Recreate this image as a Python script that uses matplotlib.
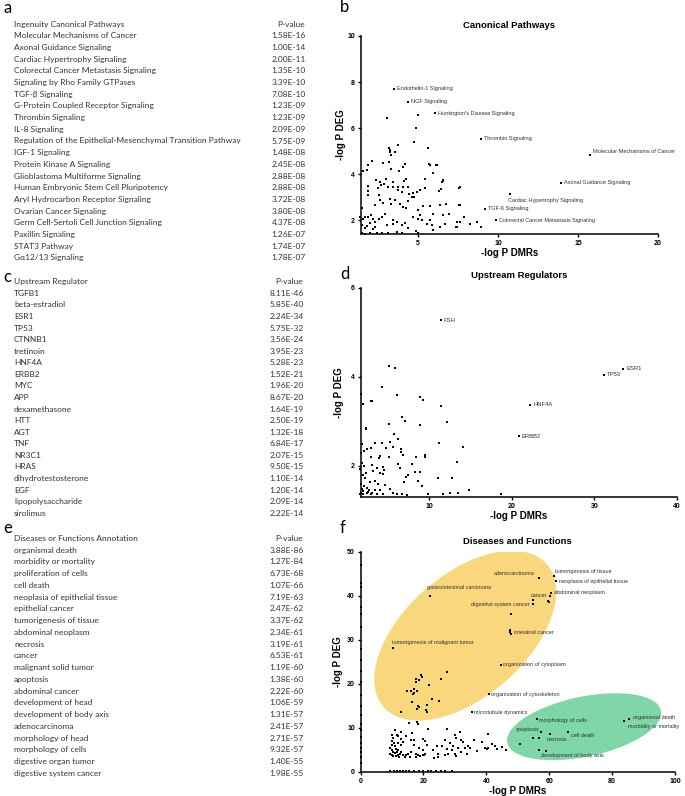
import matplotlib
matplotlib.use("Agg")
import matplotlib.pyplot as plt
from matplotlib.patches import Ellipse
from matplotlib.transforms import IdentityTransform

W, H = 685, 796
DPI = 100

# ---------------- table data ----------------
a_header = ["Ingenuity Canonical Pathways", "P-value"]
a_names = ["Molecular Mechanisms of Cancer", "Axonal Guidance Signaling", "Cardiac Hypertrophy Signaling",
           "Colorectal Cancer Metastasis Signaling", "Signaling by Rho Family GTPases", "TGF-β Signaling",
           "G-Protein Coupled Receptor Signaling", "Thrombin Signaling", "IL-8 Signaling",
           "Regulation of the Epithelial-Mesenchymal Transition Pathway", "IGF-1 Signaling",
           "Protein Kinase A Signaling", "Glioblastoma Multiforme Signaling",
           "Human Embryonic Stem Cell Pluripotency", "Aryl Hydrocarbon Receptor Signaling",
           "Ovarian Cancer Signaling", "Germ Cell-Sertoli Cell Junction Signaling", "Paxillin Signaling",
           "STAT3 Pathway", "Gα12/13 Signaling"]
a_pvals = ["1.58E-16", "1.00E-14", "2.00E-11", "1.35E-10", "3.39E-10", "7.08E-10", "1.23E-09", "1.23E-09",
           "2.09E-09", "5.75E-09", "1.48E-08", "2.45E-08", "2.88E-08", "2.88E-08", "3.72E-08", "3.80E-08",
           "4.37E-08", "1.26E-07", "1.74E-07", "1.78E-07"]

c_header = ["Upstream Regulator", "P-value"]
c_names = ["TGFB1", "beta-estradiol", "ESR1", "TP53", "CTNNB1", "tretinoin", "HNF4A", "ERBB2", "MYC", "APP",
           "dexamethasone", "HTT", "AGT", "TNF", "NR3C1", "HRAS", "dihydrotestosterone", "EGF",
           "lipopolysaccharide", "sirolimus"]
c_pvals = ["8.11E-46", "5.85E-40", "2.24E-34", "5.75E-32", "3.56E-24", "3.95E-23", "5.28E-23", "1.52E-21",
           "1.96E-20", "8.67E-20", "1.64E-19", "2.50E-19", "1.32E-18", "6.84E-17", "2.07E-15", "9.50E-15",
           "1.10E-14", "1.20E-14", "2.09E-14", "2.22E-14"]

e_header = ["Diseases or Functions Annotation", "P-value"]
e_names = ["organismal death", "morbidity or mortality", "proliferation of cells", "cell death",
           "neoplasia of epithelial tissue", "epithelial cancer", "tumorigenesis of tissue", "abdominal neoplasm",
           "necrosis", "cancer", "malignant solid tumor", "apoptosis", "abdominal cancer", "development of head",
           "development of body axis", "adenocarcinoma", "morphology of head", "morphology of cells",
           "digestive organ tumor", "digestive system cancer"]
e_pvals = ["3.88E-86", "1.27E-84", "6.73E-68", "1.07E-66", "7.19E-63", "2.47E-62", "3.37E-62", "2.34E-61",
           "3.19E-61", "6.53E-61", "1.19E-60", "1.38E-60", "2.22E-60", "1.06E-59", "1.31E-57", "2.41E-57",
           "2.71E-57", "9.32E-57", "1.40E-55", "1.98E-55"]

# ---------------- scatter b: canonical pathways ----------------
b_x = [3.08, 5.02, 4.87, 4.73, 3.77, 5.65, 3.21, 3.27, 3.23, 3.31, 3.56, 2.15, 2.81, 3.19, 1.90, 1.83, 1.56,
       4.19, 4.08, 3.79, 3.33, 5.71, 6.17, 5.92, 5.44, 6.58, 6.52, 2.40, 2.60, 2.69, 2.52, 1.90, 1.90, 1.90,
       2.98, 2.90, 3.10, 3.42, 3.46, 3.77, 3.73, 4.10, 4.23, 4.08, 3.98, 4.40, 4.46, 4.71, 4.77, 4.92, 5.13,
       5.44, 6.31, 6.44, 7.63, 2.31, 2.56, 2.63, 2.83, 3.25, 3.31, 3.56, 3.88, 4.08, 4.23, 4.40, 4.60, 4.98,
       5.13, 5.02, 5.75, 5.96, 5.75, 6.40, 6.77, 6.58, 6.96, 7.58, 7.42, 7.90, 8.25, 1.48, 1.37, 1.58, 1.69,
       1.90, 2.06, 2.21, 2.56, 2.73, 2.31, 2.00, 1.79, 1.48, 1.69, 2.31, 2.94, 3.04, 3.46, 3.46, 3.71, 3.98,
       4.19, 4.40, 4.71, 5.23, 5.54, 5.85, 5.96, 6.38, 6.69, 1.48, 1.69, 2.00, 2.42, 2.73, 3.15, 3.67, 3.98,
       5.02, 7.54, 7.60, 7.85, 7.40, 7.45, 8.27, 8.70, 8.96, 7.60, 6.15, 5.73, 5.60, 6.56, 2.20, 4.90, 5.30]
b_y = [6.46, 6.55, 6.00, 5.39, 5.28, 5.14, 5.14, 5.04, 4.94, 4.84, 4.94, 4.59, 4.49, 4.51, 4.38, 4.16, 4.14,
       4.42, 4.32, 4.14, 4.22, 4.42, 4.38, 4.06, 3.80, 3.70, 3.65, 3.74, 3.68, 3.52, 3.38, 3.48, 3.28, 3.09,
       3.77, 3.59, 3.42, 3.68, 3.45, 3.42, 3.30, 3.71, 3.77, 3.42, 3.23, 3.42, 3.13, 3.16, 2.99, 3.23, 3.30,
       3.38, 3.28, 3.36, 3.42, 2.64, 3.09, 2.87, 2.75, 2.91, 2.72, 2.87, 2.72, 2.58, 2.51, 2.83, 3.01, 2.43,
       2.22, 2.07, 2.61, 2.29, 2.00, 2.64, 2.71, 2.22, 2.25, 2.64, 1.93, 2.12, 1.85, 2.51, 2.14, 2.03, 2.12,
       2.14, 2.22, 2.07, 2.07, 2.14, 1.93, 1.88, 1.74, 1.78, 1.64, 1.71, 2.29, 1.78, 1.83, 2.00, 1.93, 1.78,
       1.88, 1.64, 2.14, 2.00, 1.85, 1.78, 1.57, 1.71, 1.83, 1.45, 1.42, 1.45, 1.45, 1.45, 1.45, 1.48, 1.45,
       1.45, 3.40, 2.68, 2.13, 1.70, 1.72, 1.84, 1.91, 1.70, 1.94, 4.39, 4.39, 5.14, 3.73, 1.60, 1.55, 2.60]
b_lab_names = ["Endothelin-1 Signaling", "NGF Signaling", "Huntington's Disease Signaling", "Thrombin Signaling",
               "Molecular Mechanisms of Cancer", "Axonal Guidance Signaling", "Cardiac Hypertrophy Signaling",
               "TGF-ß Signaling", "Colorectal Cancer Metastasis Signaling"]
b_lab_x = [3.50, 4.38, 6.04, 8.96, 15.77, 13.96, 10.73, 9.19, 9.90]
b_lab_y = [7.71, 7.15, 6.64, 5.54, 4.82, 3.62, 3.15, 2.49, 1.99]

# ---------------- scatter d: upstream regulators ----------------
d_x = [5.10, 5.83, 4.21, 6.03, 8.87, 9.19, 11.38, 1.66, 1.98, 2.87, 3.04, 6.68, 7.04, 12.10, 5.14, 8.87, 2.27,
       2.30, 5.75, 6.15, 11.17, 14.05, 5.22, 4.21, 3.36, 1.78, 5.63, 4.74, 2.87, 2.39, 2.06, 1.70, 6.52, 6.56,
       6.84, 9.47, 9.47, 4.00, 3.93, 2.87, 5.14, 8.38, 7.85, 6.23, 6.44, 13.32, 1.86, 2.10, 2.99, 4.41, 4.49,
       3.60, 3.20, 2.31, 1.90, 1.58, 4.00, 4.37, 7.45, 7.17, 8.26, 8.87, 8.58, 9.07, 6.96, 12.70, 2.19, 2.79,
       3.40, 3.81, 4.61, 1.74, 2.47, 1.78, 1.98, 2.71, 3.40, 4.00, 5.22, 11.10, 1.58, 1.98, 2.39, 2.87, 3.68,
       4.41, 5.63, 6.03, 6.64, 7.25, 9.88, 11.70, 12.51, 13.52, 14.74, 18.70, 1.75, 2.10, 2.60, 3.00]
d_y = [4.24, 4.20, 3.77, 3.60, 3.55, 3.48, 3.34, 3.61, 3.40, 3.45, 3.45, 3.10, 3.00, 2.99, 2.95, 2.93, 2.86,
       2.84, 2.72, 2.60, 2.51, 2.43, 2.54, 2.52, 2.52, 2.49, 2.43, 2.40, 2.40, 2.37, 2.33, 2.28, 2.37, 2.31,
       2.25, 2.25, 2.20, 2.22, 2.17, 2.20, 2.21, 2.19, 2.05, 2.04, 1.95, 2.09, 2.07, 2.00, 2.01, 1.98, 1.91,
       1.96, 1.89, 1.85, 1.79, 1.93, 1.84, 1.82, 1.79, 1.76, 1.87, 1.87, 1.65, 1.55, 1.63, 1.72, 1.72, 1.63,
       1.66, 1.59, 1.57, 1.60, 1.51, 1.48, 1.44, 1.46, 1.46, 1.46, 1.48, 1.72, 1.36, 1.36, 1.38, 1.36, 1.37,
       1.36, 1.39, 1.36, 1.37, 1.34, 1.36, 1.36, 1.40, 1.38, 1.46, 1.36, 1.40, 1.55, 1.42, 1.38]
d_lab_names = ["FSH", "ESR1", "TP53", "HNF4A", "ERBB2"]
d_lab_x = [11.38, 33.48, 31.13, 22.23, 20.85]
d_lab_y = [5.28, 4.18, 4.05, 3.38, 2.67]

# ---------------- scatter f: diseases and functions ----------------
f_x = [27.5, 19.2, 19.4, 17.7, 18.7, 17.5, 25.6, 21.8, 14.9, 16.0, 17.1, 18.1, 17.0, 16.7, 22.7, 16.4, 25.0,
       21.0, 18.3, 18.7, 18.1, 20.8, 21.0, 12.8, 54.7, 54.7, 59.5, 59.9, 50.8, 54.7, 56.7, 58.9,
       15.5, 18.0, 18.2, 21.5, 27.4, 40.6, 31.6, 9.9, 11.5, 12.0, 14.4, 15.9, 17.1, 19.9, 20.5, 13.0, 10.2,
       26.8, 30.0, 30.5, 32.1, 32.7, 28.4, 36.2, 29.5, 31.1, 33.2, 34.3, 34.8, 38.5, 39.6, 40.6, 40.1, 41.7,
       42.7, 43.3, 44.9, 46.4, 25.8, 27.4, 29.0, 22.9, 24.2, 24.7, 24.7, 26.8, 27.9, 30.0, 30.3, 32.1, 19.9,
       18.7, 20.5, 19.9, 17.8, 18.3, 18.9, 16.2, 15.2, 13.6, 13.0, 12.0, 10.9, 9.9, 9.9, 10.2, 9.3, 9.9, 10.4,
       10.9, 11.7, 12.0, 12.5, 11.2, 12.3, 14.1, 14.6, 15.7, 17.6, 9.3, 10.6, 12.0, 13.0, 17.0, 21.0,
       11.0, 12.8, 13.5, 10.0, 11.4, 16.5, 20.3, 23.4, 33.8, 37.0]
f_y = [22.7, 22.1, 21.5, 21.2, 20.8, 20.5, 21.1, 19.8, 18.4, 18.5, 18.8, 18.5, 18.0, 17.7, 16.6, 15.9, 16.1,
       15.3, 15.1, 14.7, 14.4, 14.0, 13.6, 13.6, 39.0, 38.2, 38.9, 38.6, 6.3, 7.7, 7.7, 4.8,
       11.2, 11.3, 10.8, 9.8, 9.8, 8.7, 9.0, 8.5, 8.5, 8.1, 8.2, 7.3, 7.3, 7.5, 7.1, 7.5, 7.7,
       7.3, 8.5, 7.7, 7.3, 6.9, 6.5, 7.3, 5.9, 5.4, 5.4, 5.9, 5.4, 6.9, 5.4, 5.4, 5.2, 6.4,
       5.8, 5.2, 5.6, 5.0, 5.8, 5.2, 5.0, 5.0, 5.8, 4.1, 3.5, 3.8, 4.1, 4.1, 3.6, 4.6, 5.0,
       5.4, 4.2, 3.8, 4.2, 3.8, 3.6, 4.6, 4.2, 3.8, 4.6, 5.0, 5.8, 6.2, 5.0, 4.6, 4.2, 3.8, 3.6,
       4.4, 4.6, 3.8, 4.2, 3.6, 3.3, 3.3, 3.8, 3.3, 3.3, 5.4, 6.5, 6.7, 6.2, 6.2, 6.2,
       9.6, 9.2, 6.8, 7.0, 5.2, 8.8, 3.9, 3.2, 4.2, 4.8]
f_edge_y = [2.0, 3.5, 4.5, 5.5, 6.5, 8.0, 9.5, 11.0, 13.0, 15.0, 17.5, 20.5, 23.0, 25.5, 28.0, 33.0, 36.0,
            37.5, 42.0, 43.0, 47.0]
f_edge_x = [9.5, 10.5, 11.5, 12.5, 13.5, 14.5, 15.5, 17.0, 18.5, 20.0, 21.5, 22.5, 24.0, 25.5, 27.0, 29.0]
f_lab_names = ["adenocarcinoma", "tumorigenesis of tissue", "neoplasia of epithelial tissue",
               "gastrointestinal carcinoma", "cancer", "abdominal neoplasm", "digestive system cancer",
               "intestinal cancer", "tumorigenesis of malignant tumor", "organization of cytoplasm",
               "organization of cytoskeleton", "microtubule dynamics", "morphology of cells", "organismal death",
               "morbidity or mortality", "apoptosis", "necrosis", "cell death", "development of body axis"]
f_lab_x = [56.7, 61.4, 62.1, 22.1, 60.2, 60.5, 54.7, 47.8, 10.2, 44.8, 40.7, 35.5, 56.0, 85.5, 83.9, 57.3,
           60.3, 66.1, 56.8]
f_lab_y = [44.2, 44.5, 43.3, 40.1, 40.1, 40.6, 38.2, 31.4, 28.1, 24.4, 17.7, 13.6, 12.0, 12.0, 11.5, 9.0,
           8.7, 9.2, 5.0]
f_extra_x = [47.4, 47.6, 47.9]
f_extra_y = [32.3, 31.8, 35.9]

# label placement (pixel offsets, alignment)
b_offsets = [(3, 0, "left"), (3, 0, "left"), (3, 0, "left"), (3, 0, "left"), (3, 4, "left"),
             (3, 0, "left"), (-2, -7, "left"), (3, 0, "left"), (3, 0, "left")]
d_offsets = [(3, 0, "left")] * 5
f_offsets = [(-4, 4, "right"), (1, 5, "left"), (3, 0, "left"), (-3, 8, "left"), (-3, 0, "right"),
             (3, 1, "left"), (-3, -1, "right"), (3, 1, "left"), (-1, 6, "left"), (2, 0, "left"),
             (2, 0, "left"), (2, 0, "left"), (2, -1, "left"), (4, 2, "left"), (4, -5, "left"),
             (-1, 3, "right"), (-4, -6, "left"), (3, -4, "left"), (2, -6, "left")]

# ---------------- figure ----------------
fig = plt.figure(figsize=(W / DPI, H / DPI), dpi=DPI)
fig.patch.set_facecolor("white")

TABLE_FONT = ["Lato", "DejaVu Sans"]
SC_FONT = ["Liberation Sans", "DejaVu Sans"]
TXT = "#333333"


def fx(px):
    return px / W


def fy(py):
    return 1 - py / H


def table(header, names, pvals, y0, step, vx):
    fs = 6.0
    fig.text(fx(14), fy(y0), header[0], fontsize=fs, family=TABLE_FONT, color=TXT, va="center")
    fig.text(fx(vx - 15), fy(y0), header[1], fontsize=fs, family=TABLE_FONT, color=TXT, va="center", ha="center")
    for i, (n, p) in enumerate(zip(names, pvals)):
        yy = y0 + step * (i + 1)
        fig.text(fx(14), fy(yy), n, fontsize=fs, family=TABLE_FONT, color=TXT, va="center")
        fig.text(fx(vx), fy(yy), p, fontsize=fs, family=TABLE_FONT, color=TXT, va="center", ha="right")


table(a_header, a_names, a_pvals, 24.3, 11.67, 306)
table(c_header, c_names, c_pvals, 281.7, 11.58, 304)
table(e_header, e_names, e_pvals, 538.3, 11.75, 304)

for lab, x, y in [("a", 3, 13), ("c", 3, 282), ("e", 3, 533), ("b", 340, 12), ("d", 340, 279), ("f", 340, 533)]:
    fig.text(fx(x), fy(y), lab, fontsize=12, family=TABLE_FONT, color="black", va="baseline")


def make_axes(l, r, t, b):
    ax = fig.add_axes([fx(l), fy(b), (r - l) / W, (b - t) / H])
    for s in ["top", "right"]:
        ax.spines[s].set_visible(False)
    for s in ["left", "bottom"]:
        ax.spines[s].set_linewidth(1.1)
    ax.tick_params(direction="out", length=2.5, width=1.0, labelsize=5, pad=1.5)
    ax.set_facecolor("none")
    return ax


def style_ticks(ax):
    for t_ in ax.get_xticklabels() + ax.get_yticklabels():
        t_.set_fontweight("bold")
        t_.set_family(SC_FONT)


def labels(ax, title, ylabpad, tpad):
    ax.set_title(title, fontsize=6.8, fontweight="bold", family=SC_FONT, pad=tpad)
    ax.set_xlabel("-log P DMRs", fontsize=7, fontweight="bold", family=SC_FONT, labelpad=1)
    ax.set_ylabel("-log P DEG", fontsize=7, fontweight="bold", family=SC_FONT, labelpad=ylabpad)


def annotate(ax, names, xs, ys, offs, fs):
    for n, x, y, (dx, dy, ha) in zip(names, xs, ys, offs):
        ax.annotate(n, (x, y), xytext=(dx, dy), textcoords="offset pixels", ha=ha, va="center",
                    fontsize=fs, family=SC_FONT, color=TXT)


# b
axb = make_axes(360.5, 658, 36, 234)
axb.set_xlim(1.4, 20)
axb.set_ylim(1.4, 10)
axb.set_xticks([5, 10, 15, 20])
axb.set_yticks([2, 4, 6, 8, 10])
style_ticks(axb)
axb.scatter(b_x, b_y, s=1.8, c="black", marker="s", linewidths=0, clip_on=False)
axb.scatter(b_lab_x, b_lab_y, s=1.8, c="black", marker="s", linewidths=0)
annotate(axb, b_lab_names, b_lab_x, b_lab_y, b_offsets, 4.0)
labels(axb, "Canonical Pathways", 1, 6)

# d
axd = make_axes(360.5, 677, 288, 497)
axd.set_xlim(1.65, 40)
axd.set_ylim(1.3, 6)
axd.set_xticks([10, 20, 30, 40])
axd.set_yticks([2, 4, 6])
style_ticks(axd)
axd.scatter(d_x, d_y, s=1.8, c="black", marker="s", linewidths=0, clip_on=False)
axd.scatter(d_lab_x, d_lab_y, s=1.8, c="black", marker="s", linewidths=0)
annotate(axd, d_lab_names, d_lab_x, d_lab_y, d_offsets, 4.2)
labels(axd, "Upstream Regulators", 5, 7)

# f
axf = make_axes(360.5, 675, 552, 772)
axf.set_xlim(0, 100)
axf.set_ylim(0, 50)
axf.set_xticks([0, 20, 40, 60, 80, 100])
axf.set_yticks([0, 10, 20, 30, 40, 50])
style_ticks(axf)
fig.canvas.draw()
# highlight ellipses (drawn in display pixels, anchored at data centres)
for (cx, cy, w, h, ang, col) in [(33.3, 31.0, 217, 122, 41.2, "#F9D77C"), (71.1, 10.3, 157, 60, 11.8, "#7FD6A6")]:
    px, py = axf.transData.transform((cx, cy))
    e = Ellipse((px, py), w, h, angle=ang, transform=IdentityTransform(), facecolor=col,
                edgecolor="none", zorder=0)
    axf.add_artist(e)
axf.scatter(f_x, f_y, s=1.8, c="black", marker="s", linewidths=0, zorder=3)
axf.scatter(f_extra_x, f_extra_y, s=1.8, c="black", marker="s", linewidths=0, zorder=3)
axf.scatter([0.25] * len(f_edge_y), f_edge_y, s=1.8, c="black", marker="s", linewidths=0, zorder=3, clip_on=False)
axf.scatter(f_edge_x, [0.2] * len(f_edge_x), s=1.8, c="black", marker="s", linewidths=0, zorder=3, clip_on=False)
axf.scatter(f_lab_x, f_lab_y, s=1.8, c="black", marker="s", linewidths=0, zorder=3)
annotate(axf, f_lab_names, f_lab_x, f_lab_y, f_offsets, 4.0)
labels(axf, "Diseases and Functions", 3, 6)

fig.savefig("out.png", dpi=DPI, facecolor="white")
